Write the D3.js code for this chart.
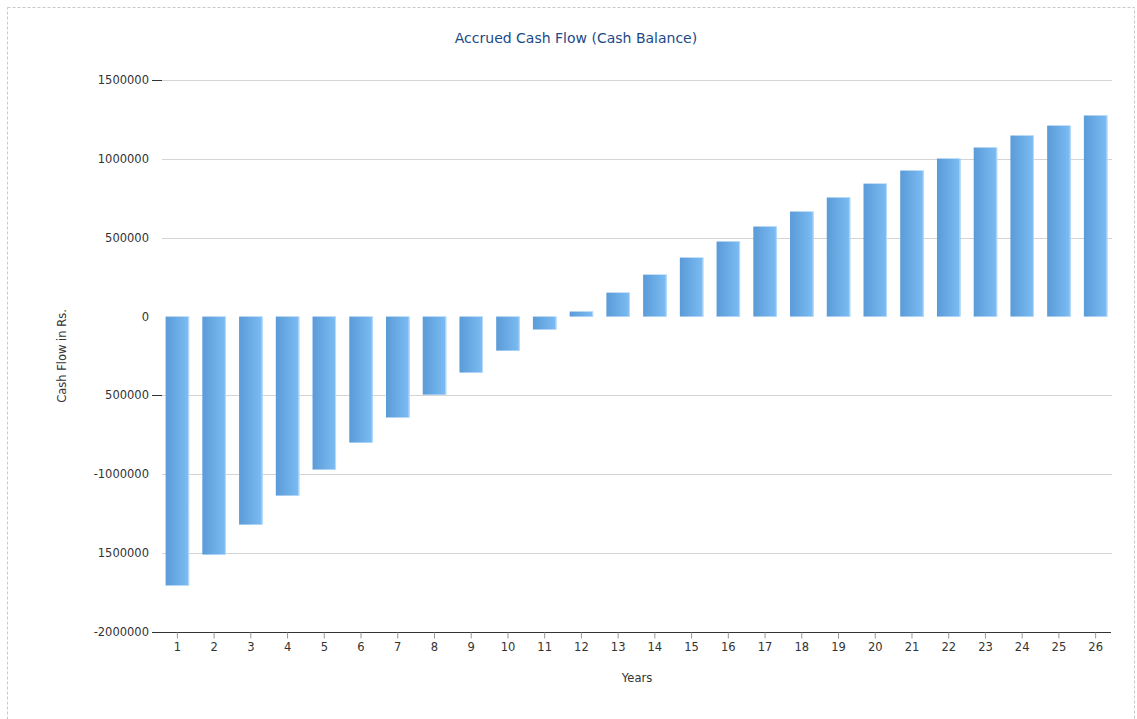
<!DOCTYPE html>
<html>
<head>
<meta charset="utf-8">
<script src="https://cdn.jsdelivr.net/npm/d3@7"></script>
<style>
  html, body { margin: 0; padding: 0; background: #fff; }
  svg { display: block; }
  text { font-family: Tahoma, "DejaVu Sans", Verdana, sans-serif; }
</style>
</head>
<body>
<svg id="chart" width="1137" height="719"></svg>
<script>
// Accrued cash balance by year (Rs.)
const years = [1,2,3,4,5,6,7,8,9,10,11,12,13,14,15,16,17,18,19,20,21,22,23,24,25,26];
const balance = [-1705000,-1509000,-1319000,-1135000,-970000,-799000,-640000,-495000,-355000,-216000,-82000,
                 32000,152000,266000,374000,476000,571000,666000,755000,843000,926000,1002000,1072000,1148000,1211000,1275000];
const yTickValues = [1500000, 1000000, 500000, 0, -500000, -1000000, -1500000, -2000000];
const yTickLabels = ["1500000", "1000000", "500000", "0", "500000", "-1000000", "1500000", "-2000000"];
const yTickMarked = [1500000, -500000, -2000000];

(function () {
  const svg = d3.select("#chart");
  const W = 1137, H = 719;

  // dashed outer frame
  svg.append("rect")
    .attr("x", 7.5).attr("y", 7.5).attr("width", W - 10).attr("height", H - 5)
    .attr("fill", "none").attr("stroke", "#c8c8c8").attr("stroke-dasharray", "3,2");

  const plotLeft = 159, plotRight = 1114, plotTop = 80, plotBottom = 632;

  const x = d3.scaleBand().domain(years).range([plotLeft, plotRight]).paddingInner(0.36).paddingOuter(0.18);
  const y = d3.scaleLinear().domain([-2000000, 1500000]).range([plotBottom, plotTop]);

  // bar gradient
  const defs = svg.append("defs");
  const grad = defs.append("linearGradient").attr("id", "barGrad")
    .attr("x1", "0").attr("x2", "1").attr("y1", "0").attr("y2", "0");
  grad.append("stop").attr("offset", "0%").attr("stop-color", "#5a9bd8");
  grad.append("stop").attr("offset", "100%").attr("stop-color", "#7dbdf4");

  // grid lines
  svg.append("g").selectAll("line")
    .data(yTickValues.filter(v => v !== 0 && v !== -2000000))
    .join("line")
    .attr("x1", 162).attr("x2", 1112)
    .attr("y1", d => Math.round(y(d)) + 0.5).attr("y2", d => Math.round(y(d)) + 0.5)
    .attr("stroke", "#d4d4d4").attr("stroke-width", 1);

  // y tick marks and labels
  const yAxis = svg.append("g");
  yAxis.selectAll("line")
    .data(yTickMarked)
    .join("line")
    .attr("x1", 152).attr("x2", 162)
    .attr("y1", d => Math.round(y(d)) + 0.5).attr("y2", d => Math.round(y(d)) + 0.5)
    .attr("stroke", "#333").attr("stroke-width", 1);
  yAxis.selectAll("text")
    .data(yTickValues)
    .join("text")
    .attr("x", 149).attr("y", d => y(d) + 4)
    .attr("text-anchor", "end")
    .attr("font-size", 11.5).attr("fill", "#333")
    .text((d, i) => yTickLabels[i]);

  // bars
  svg.append("g").selectAll("rect")
    .data(years)
    .join("rect")
    .attr("x", d => x(d))
    .attr("width", x.bandwidth())
    .attr("y", (d, i) => y(Math.max(0, balance[i])))
    .attr("height", (d, i) => Math.abs(y(balance[i]) - y(0)))
    .attr("fill", "url(#barGrad)");
  // thin light edge on the right side of each bar
  svg.append("g").selectAll("line")
    .data(years)
    .join("line")
    .attr("x1", d => x(d) + x.bandwidth() - 0.5).attr("x2", d => x(d) + x.bandwidth() - 0.5)
    .attr("y1", (d, i) => y(Math.max(0, balance[i])))
    .attr("y2", (d, i) => y(Math.min(0, balance[i])))
    .attr("stroke", "#b9dcfb").attr("stroke-width", 1);

  // x axis
  const xAxis = d3.axisBottom(x).tickSize(6).tickSizeOuter(0).tickPadding(4);
  const gx = svg.append("g").attr("transform", `translate(0,${plotBottom + 0.5})`).call(xAxis);
  gx.select(".domain").attr("d", "M152,0H1111").attr("stroke", "#333");
  gx.selectAll(".tick line").attr("stroke", "#999");
  gx.selectAll(".tick text").attr("font-size", 11.5).attr("fill", "#333")
    .style("font-family", 'Tahoma, "DejaVu Sans", Verdana, sans-serif');

  // title
  svg.append("text")
    .attr("x", 576).attr("y", 43)
    .attr("text-anchor", "middle")
    .attr("font-size", 14).attr("fill", "#1c4a88")
    .text("Accrued Cash Flow (Cash Balance)");

  // axis titles
  svg.append("text")
    .attr("x", 637).attr("y", 682)
    .attr("text-anchor", "middle")
    .attr("font-size", 11.5).attr("fill", "#333")
    .text("Years");

  svg.append("text")
    .attr("transform", "translate(66,356) rotate(-90)")
    .attr("text-anchor", "middle")
    .attr("font-size", 11.5).attr("fill", "#333")
    .text("Cash Flow in Rs.");
})();
</script>
</body>
</html>
